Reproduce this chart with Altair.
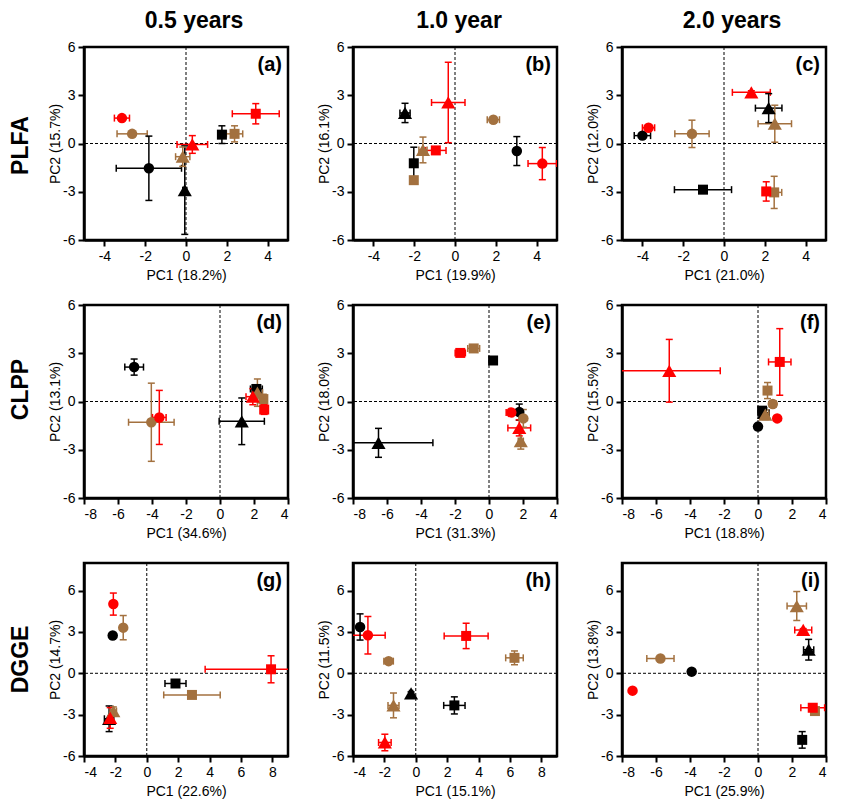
import altair as alt
import pandas as pd

FONT = "Liberation Sans"

# treatments (drawing order: black, brown, red -> red on top)
treat_color = ["black", "black", "black", "brown", "brown", "brown", "red", "red", "red"]
treat_shape = ["circle", "square", "triangle", "circle", "square", "triangle", "circle", "square", "triangle"]

color_domain = ["black", "brown", "red"]
color_range = ["#000000", "#A3713F", "#FF0000"]
shape_domain = ["circle", "square", "triangle"]
shape_range = ["circle", "square", "triangle-up"]
shape_area = {"circle": 110, "square": 100, "triangle": 200}

# (a) PLFA, 0.5 years
a_pc1 = [-1.82, 1.76, -0.06, -2.64, 2.38, -0.16, -3.14, 3.42, 0.31]
a_pc2 = [-1.54, 0.55, -2.90, 0.60, 0.60, -0.82, 1.58, 1.85, -0.06]
a_pc1_err = [1.60, 0.15, 0.10, 0.74, 0.40, 0.35, 0.37, 1.15, 0.75]
a_pc2_err = [2.00, 0.55, 2.75, 0.10, 0.50, 0.60, 0.10, 0.63, 0.55]

# (b) PLFA, 1.0 year
b_pc1 = [3.03, -2.02, -2.45, 1.88, -2.02, -1.57, 4.28, -0.94, -0.33]
b_pc2 = [-0.47, -1.23, 1.90, 1.48, -2.28, -0.40, -1.25, -0.43, 2.55]
b_pc1_err = [0.10, 0.10, 0.25, 0.30, 0.10, 0.20, 0.70, 0.50, 0.82]
b_pc2_err = [0.90, 1.00, 0.60, 0.10, 0.10, 0.80, 1.00, 0.10, 2.50]

# (c) PLFA, 2.0 years
c_pc1 = [-4.00, -1.03, 2.19, -1.57, 2.46, 2.49, -3.70, 2.07, 1.34]
c_pc2 = [0.49, -2.87, 2.20, 0.60, -3.04, 1.23, 0.98, -2.98, 3.18]
c_pc1_err = [0.40, 1.40, 0.65, 0.84, 0.37, 0.82, 0.30, 0.10, 0.93]
c_pc2_err = [0.10, 0.10, 0.90, 0.85, 1.00, 1.15, 0.10, 0.60, 0.10]

# (d) CLPP, 0.5 years
d_pc1 = [-5.05, 2.14, 1.28, -4.04, 2.55, 2.20, -3.57, 2.60, 1.93]
d_pc2 = [2.14, 0.78, -1.23, -1.29, 0.15, 0.55, -0.99, -0.50, 0.30]
d_pc1_err = [0.55, 0.35, 1.33, 1.34, 0.20, 0.30, 0.40, 0.10, 0.40]
d_pc2_err = [0.50, 0.20, 1.45, 2.43, 0.30, 0.85, 1.68, 0.30, 0.50]

# (e) CLPP, 1.0 year
e_pc1 = [1.78, 0.24, -6.50, 2.02, -0.90, 1.87, 1.31, -1.69, 1.78]
e_pc2 = [-0.66, 2.55, -2.57, -1.05, 3.30, -2.46, -0.68, 3.02, -1.64]
e_pc1_err = [0.15, 0.05, 3.20, 0.15, 0.35, 0.15, 0.30, 0.30, 0.67]
e_pc2_err = [0.50, 0.05, 0.90, 0.55, 0.15, 0.50, 0.10, 0.15, 0.50]

# (f) CLPP, 2.0 years
f_pc1 = [0.00, 0.24, 0.35, 0.87, 0.56, 0.43, 1.13, 1.28, -5.22]
f_pc2 = [-1.56, -0.57, -0.70, -0.16, 0.68, -0.82, -1.05, 2.46, 1.91]
f_pc1_err = [0.10, 0.10, 0.30, 0.20, 0.20, 0.20, 0.10, 0.66, 3.00]
f_pc2_err = [0.10, 0.20, 0.30, 0.20, 0.50, 0.30, 0.10, 2.07, 1.95]

# (g) DGGE, 0.5 years
g_pc1 = [-2.17, 1.83, -2.40, -1.50, 2.88, -2.13, -2.13, 7.92, -2.33]
g_pc2 = [2.74, -0.74, -3.30, 3.31, -1.57, -2.74, 5.02, 0.29, -3.24]
g_pc1_err = [0.05, 0.67, 0.30, 0.10, 1.80, 0.20, 0.10, 4.20, 0.10]
g_pc2_err = [0.05, 0.10, 0.93, 0.88, 0.10, 0.30, 0.80, 0.98, 0.75]

# (h) DGGE, 1.0 year
h_pc1 = [-3.55, 2.46, -0.30, -1.73, 6.29, -1.42, -3.05, 3.21, -1.97]
h_pc2 = [3.36, -2.33, -1.45, 0.88, 1.12, -2.33, 2.76, 2.71, -5.02]
h_pc1_err = [0.10, 0.68, 0.10, 0.30, 0.56, 0.35, 1.10, 1.40, 0.40]
h_pc2_err = [0.95, 0.62, 0.10, 0.10, 0.50, 0.90, 1.36, 0.92, 0.60]

# (i) DGGE, 2.0 years
i_pc1 = [-3.90, 2.60, 2.98, -5.74, 3.35, 2.28, -7.38, 3.22, 2.66]
i_pc2 = [0.12, -4.83, 1.71, 1.07, -2.74, 4.88, -1.26, -2.50, 3.14]
i_pc1_err = [0.05, 0.10, 0.30, 0.80, 0.20, 0.57, 0.05, 0.70, 0.50]
i_pc2_err = [0.05, 0.60, 0.75, 0.10, 0.10, 1.05, 0.05, 0.10, 0.10]

col_titles = ["0.5 years", "1.0 year", "2.0 years"]
row_titles = ["PLFA", "CLPP", "DGGE"]
pc1_titles = ["PC1 (18.2%)", "PC1 (19.9%)", "PC1 (21.0%)",
              "PC1 (34.6%)", "PC1 (31.3%)", "PC1 (18.8%)",
              "PC1 (22.6%)", "PC1 (15.1%)", "PC1 (25.9%)"]
pc2_titles = ["PC2 (15.7%)", "PC2 (16.1%)", "PC2 (12.0%)",
              "PC2 (13.1%)", "PC2 (18.0%)", "PC2 (15.5%)",
              "PC2 (14.7%)", "PC2 (11.5%)", "PC2 (13.8%)"]
letters = ["a", "b", "c", "d", "e", "f", "g", "h", "i"]

x_domains = [[-5, 5], [-5, 5], [-5, 5],
             [-8, 4], [-8, 4], [-8, 4],
             [-4, 9], [-4, 9], [-8, 4]]
x_ticks = [[-4, -2, 0, 2, 4]] * 3 + [[-8, -6, -4, -2, 0, 2, 4]] * 3 + \
          [[-4, -2, 0, 2, 4, 6, 8], [-4, -2, 0, 2, 4, 6, 8], [-8, -6, -4, -2, 0, 2, 4]]
y_domains = [[-6, 6]] * 6 + [[-6, 8]] * 3
y_ticks = [-6, -3, 0, 3, 6]

panel_data = [
    (a_pc1, a_pc2, a_pc1_err, a_pc2_err),
    (b_pc1, b_pc2, b_pc1_err, b_pc2_err),
    (c_pc1, c_pc2, c_pc1_err, c_pc2_err),
    (d_pc1, d_pc2, d_pc1_err, d_pc2_err),
    (e_pc1, e_pc2, e_pc1_err, e_pc2_err),
    (f_pc1, f_pc2, f_pc1_err, f_pc2_err),
    (g_pc1, g_pc2, g_pc1_err, g_pc2_err),
    (h_pc1, h_pc2, h_pc1_err, h_pc2_err),
    (i_pc1, i_pc2, i_pc1_err, i_pc2_err),
]

W = 204
H = 193
col_title_dx = [8, 4, 8]
row_title_dy = [2, -12, 0]

cscale = alt.Scale(domain=color_domain, range=color_range)
sscale = alt.Scale(domain=shape_domain, range=shape_range)


def make_panel(k):
    pc1, pc2, e1, e2 = panel_data[k]
    df = pd.DataFrame({"pc1": pc1, "pc2": pc2, "e1": e1, "e2": e2,
                       "col": treat_color, "shp": treat_shape})
    df["sz"] = df["shp"].map(shape_area)
    df["xlo"] = df["pc1"] - df["e1"]
    df["xhi"] = df["pc1"] + df["e1"]
    df["ylo"] = df["pc2"] - df["e2"]
    df["yhi"] = df["pc2"] + df["e2"]

    hcaps = pd.concat([
        pd.DataFrame({"cx": df["xlo"], "cy": df["pc2"], "col": df["col"]}),
        pd.DataFrame({"cx": df["xhi"], "cy": df["pc2"], "col": df["col"]}),
    ])
    vcaps = pd.concat([
        pd.DataFrame({"cx": df["pc1"], "cy": df["ylo"], "col": df["col"]}),
        pd.DataFrame({"cx": df["pc1"], "cy": df["yhi"], "col": df["col"]}),
    ])

    xs = alt.Scale(domain=x_domains[k], nice=False, zero=False)
    ys = alt.Scale(domain=y_domains[k], nice=False, zero=False)
    xaxis = alt.Axis(values=x_ticks[k], title=pc1_titles[k], labelExpr="'' + datum.value")
    yaxis = alt.Axis(values=y_ticks, title=pc2_titles[k], labelExpr="'' + datum.value")
    color = alt.Color("col:N", scale=cscale, legend=None)

    zero_df = pd.DataFrame({"z": [0]})
    zero_v = alt.Chart(zero_df).mark_rule(color="black", strokeDash=[3, 2], strokeWidth=1).encode(
        x=alt.X("z:Q", scale=xs, axis=xaxis))
    zero_h = alt.Chart(zero_df).mark_rule(color="black", strokeDash=[3, 2], strokeWidth=1).encode(
        y=alt.Y("z:Q", scale=ys, axis=yaxis))

    hbar = alt.Chart(df).mark_rule(strokeWidth=1.5, clip=True).encode(
        x=alt.X("xlo:Q", scale=xs, axis=xaxis), x2="xhi:Q",
        y=alt.Y("pc2:Q", scale=ys, axis=yaxis), color=color)
    vbar = alt.Chart(df).mark_rule(strokeWidth=1.5, clip=True).encode(
        x=alt.X("pc1:Q", scale=xs, axis=xaxis),
        y=alt.Y("ylo:Q", scale=ys, axis=yaxis), y2="yhi:Q", color=color)
    hcap = alt.Chart(hcaps).mark_tick(orient="vertical", size=7, thickness=1.5, opacity=1, clip=True).encode(
        x=alt.X("cx:Q", scale=xs, axis=xaxis), y=alt.Y("cy:Q", scale=ys, axis=yaxis), color=color)
    vcap = alt.Chart(vcaps).mark_tick(orient="horizontal", size=7, thickness=1.5, opacity=1, clip=True).encode(
        x=alt.X("cx:Q", scale=xs, axis=xaxis), y=alt.Y("cy:Q", scale=ys, axis=yaxis), color=color)

    pts = alt.Chart(df).mark_point(filled=True, opacity=1).encode(
        x=alt.X("pc1:Q", scale=xs, axis=xaxis),
        y=alt.Y("pc2:Q", scale=ys, axis=yaxis),
        color=color,
        shape=alt.Shape("shp:N", scale=sscale, legend=None),
        size=alt.Size("sz:Q", scale=None))

    lbl = alt.Chart(pd.DataFrame({"t": ["(" + letters[k] + ")"]})).mark_text(
        align="right", baseline="alphabetic", fontSize=20, fontWeight="bold", font=FONT, color="black"
    ).encode(text="t:N", x=alt.value(W - 6), y=alt.value(24))

    layers = [zero_v, zero_h, hbar, vbar, hcap, vcap, pts, lbl]

    r, c = divmod(k, 3)
    if r == 0:
        ct = alt.Chart(pd.DataFrame({"t": [col_titles[c]]})).mark_text(
            align="center", baseline="alphabetic", fontSize=23, fontWeight="bold", font=FONT, color="black"
        ).encode(text="t:N", x=alt.value(W / 2 + col_title_dx[c]), y=alt.value(-19.5))
        layers.append(ct)
    if c == 0:
        rt = alt.Chart(pd.DataFrame({"t": [row_titles[r]]})).mark_text(
            align="center", baseline="middle", angle=270, fontSize=23, fontWeight="bold", font=FONT, color="black"
        ).encode(text="t:N", x=alt.value(-63), y=alt.value(H / 2 + row_title_dy[r]))
        layers.append(rt)

    return alt.layer(*layers).properties(width=W, height=H)


panels = [make_panel(k) for k in range(9)]

chart = alt.concat(*panels, columns=3, spacing=65, bounds="flush").properties(
    padding={"left": 0, "top": 0, "right": 0, "bottom": 0}
).configure_view(
    stroke="black", strokeWidth=2.5
).configure_axis(
    domainColor="black", domainWidth=2.5, tickColor="black", tickWidth=2, tickSize=6,
    labelFont=FONT, labelFontSize=14, labelColor="black", labelPadding=3,
    titleFont=FONT, titleFontSize=14, titleFontWeight="normal", titleColor="black",
    grid=False
).configure_axisX(titlePadding=5).configure_axisY(titlePadding=0)

chart.save("out.html", embed_options={"renderer": "svg", "actions": False})
